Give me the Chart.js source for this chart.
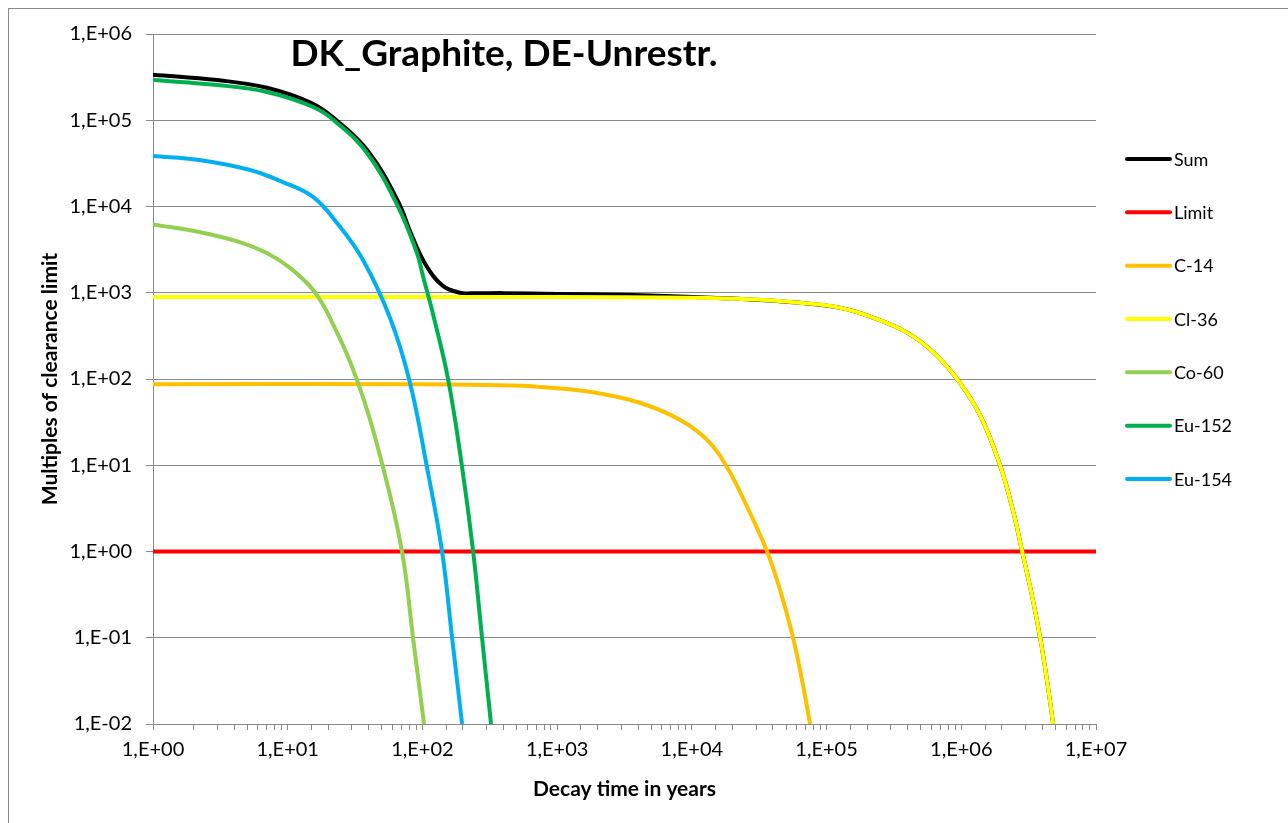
<!DOCTYPE html>
<html lang="en">
<head>
<meta charset="UTF-8">
<title>DK_Graphite, DE-Unrestr.</title>
<script src="https://cdn.jsdelivr.net/npm/chart.js"></script>
<style>
  html, body { margin: 0; padding: 0; background: #fff; overflow: hidden; }
  #frame { position: absolute; left: 8px; top: 8px; width: 1400px; height: 900px; border: 1px solid #8a8a8a; }
  #wrap { position: absolute; left: 0; top: 0; width: 1288px; height: 823px; }
</style>
</head>
<body>
<div id="frame"></div>
<div id="wrap"><canvas id="decayChart" width="1288" height="823"></canvas></div>

<script>
    // Texts
    const chartTitle = 'DK_Graphite, DE-Unrestr.';
    const xTitle = 'Decay time in years';
    const yTitle = 'Multiples of clearance limit';

    // Series names and colours (legend order)
    const seriesNames = ['Sum', 'Limit', 'C-14', 'Cl-36', 'Co-60', 'Eu-152', 'Eu-154'];
    const seriesColors = ['#000000', '#FF0000', '#FFC000', '#FFFF00', '#92D050', '#00B050', '#00B0F0'];

    // Values: decay time (years) and multiples of clearance limit
    const sumT = [1, 3, 7, 15, 23, 39, 65, 85, 108, 142, 190, 230, 400, 1000, 3000, 8000, 20000, 60000, 126000, 221000, 396000, 618000, 931000, 1380000, 1940000, 2430000, 2830000, 3360000, 3850000, 4330000, 4810000];
    const sumV = [338000, 292000, 238000, 158000, 100000, 45000, 12000, 4300, 2000, 1200, 1000, 985, 990, 970, 945, 905, 855, 770, 670, 515, 345, 205, 100, 38, 10, 2.9, 1.0, 0.30, 0.1, 0.032, 0.01];

    const limitT = [1, 10000000];
    const limitV = [1, 1];

    const c14T = [1, 100, 300, 750, 1750, 4100, 8200, 13000, 18250, 25700, 36200, 45100, 56400, 66900, 75400];
    const c14V = [87, 87, 85, 81, 71, 53, 33.5, 19.6, 9.5, 3.3, 1.0, 0.36, 0.1, 0.028, 0.01];

    const cl36T = [1, 1000, 10000, 30000, 60000, 126000, 221000, 396000, 618000, 931000, 1380000, 1940000, 2430000, 2830000, 3360000, 3850000, 4330000, 4810000];
    const cl36V = [893, 890, 873, 834, 770, 670, 515, 345, 205, 100, 38, 10, 2.9, 1.0, 0.30, 0.1, 0.032, 0.01];

    const co60T = [1, 2.2, 4.4, 7, 10.4, 15.4, 20.6, 32.7, 51, 70.6, 85.2, 102.8];
    const co60V = [6200, 5060, 3870, 2890, 1940, 1080, 510, 97, 9.5, 0.99, 0.099, 0.01];

    const eu152T = [1, 3, 7, 15.4, 23.2, 38.8, 64.8, 91, 101, 120, 155, 197, 238, 277, 323];
    const eu152V = [293000, 256000, 213000, 142600, 93000, 41700, 10500, 2900, 1550, 560, 100, 9.5, 1.0, 0.1, 0.01];

    const eu154T = [1, 2.2, 5.25, 9.2, 15.4, 23.2, 36.2, 57.5, 80.9, 108, 140, 166, 197];
    const eu154V = [38500, 34600, 26500, 19200, 12900, 6440, 2400, 509, 90, 9.5, 0.99, 0.1, 0.01];

    // Axis ranges
    const xMin = 1, xMax = 10000000;
    const yMin = 0.01, yMax = 1000000;

    const seriesT = [sumT, limitT, c14T, cl36T, co60T, eu152T, eu154T];
    const seriesV = [sumV, limitV, c14V, cl36V, co60V, eu152V, eu154V];

    function toPoints(ts, vs) {
        return ts.map((t, i) => ({ x: t, y: vs[i] }));
    }

    // Excel style labels: 1,E+06
    function sciLabel(v) {
        const lg = Math.log10(v);
        const e = Math.round(lg);
        if (Math.abs(lg - e) > 1e-9) return null;
        return '1,E' + (e < 0 ? '-' : '+') + String(Math.abs(e)).padStart(2, '0');
    }

    const gridGrey = '#8a8a8a';
    const fontFamily = 'Lato, "Open Sans", sans-serif';

    const datasets = seriesNames.map((name, i) => ({
        label: name,
        data: toPoints(seriesT[i], seriesV[i]),
        borderColor: seriesColors[i],
        backgroundColor: seriesColors[i],
        borderWidth: 4,
        pointRadius: 0,
        fill: false,
        tension: 0.4,
        order: seriesNames.length - i   // first series drawn underneath, like Excel
    }));

    // Title inside the plot and the legend on the right
    const overlayPlugin = {
        id: 'overlay',
        afterDraw(chart) {
            const ctx = chart.ctx;
            ctx.save();
            ctx.fillStyle = '#000';
            ctx.font = 'bold 37px ' + fontFamily;
            ctx.textAlign = 'center';
            ctx.textBaseline = 'alphabetic';
            ctx.fillText(chartTitle, 504, 66);

            ctx.font = '18px ' + fontFamily;
            ctx.textAlign = 'left';
            ctx.textBaseline = 'middle';
            chart.data.datasets.forEach((ds, i) => {
                const y = 159 + i * 53.33;
                ctx.strokeStyle = ds.borderColor;
                ctx.lineWidth = 4;
                ctx.lineCap = 'round';
                ctx.beginPath();
                ctx.moveTo(1127, y);
                ctx.lineTo(1170, y);
                ctx.stroke();
                ctx.fillStyle = '#000';
                ctx.fillText(ds.label, 1174, y + 1);
            });
            ctx.restore();
        }
    };

    const ctx = document.getElementById('decayChart').getContext('2d');
    const decayChart = new Chart(ctx, {
        type: 'line',
        data: { datasets: datasets },
        options: {
            responsive: false,
            animation: false,
            layout: { padding: { left: 30, top: 34, right: 192, bottom: 14 } },
            plugins: {
                legend: { display: false },
                tooltip: { enabled: false }
            },
            scales: {
                x: {
                    type: 'logarithmic',
                    min: xMin,
                    max: xMax,
                    afterFit: function(scale) { scale.height = 85; },
                    border: { color: gridGrey, width: 1 },
                    grid: {
                        drawOnChartArea: false,
                        drawTicks: true,
                        tickLength: 6,
                        tickColor: gridGrey
                    },
                    ticks: {
                        autoSkip: false,
                        maxRotation: 0,
                        padding: 8,
                        color: '#000',
                        font: { family: fontFamily, size: 20 },
                        callback: function(value) {
                            const s = sciLabel(value);
                            return s === null ? '' : s;
                        }
                    },
                    title: {
                        display: true,
                        text: xTitle,
                        color: '#000',
                        font: { family: fontFamily, size: 21, weight: 'bold' },
                        padding: { top: 0, bottom: 7 }
                    }
                },
                y: {
                    type: 'logarithmic',
                    min: yMin,
                    max: yMax,
                    afterFit: function(scale) { scale.width = 123; },
                    border: { color: gridGrey, width: 1 },
                    grid: {
                        color: gridGrey,
                        lineWidth: 1,
                        tickLength: 7,
                        tickColor: gridGrey
                    },
                    ticks: {
                        autoSkip: false,
                        padding: 14,
                        color: '#000',
                        font: { family: fontFamily, size: 20 },
                        callback: function(value) { return sciLabel(value); }
                    },
                    title: {
                        display: true,
                        text: yTitle,
                        color: '#000',
                        font: { family: fontFamily, size: 21, weight: 'bold' },
                        padding: { top: 8, bottom: 0 }
                    }
                }
            }
        },
        plugins: [overlayPlugin]
    });
</script>
</body>
</html>
